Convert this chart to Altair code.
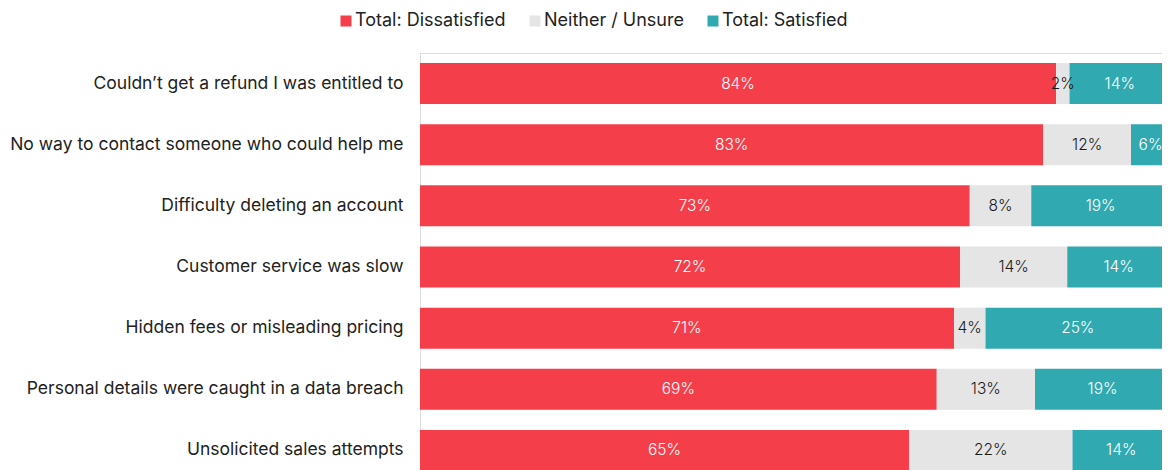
import altair as alt
import pandas as pd

questions = [
    "Couldn’t get a refund I was entitled to",
    "No way to contact someone who could help me",
    "Difficulty deleting an account",
    "Customer service was slow",
    "Hidden fees or misleading pricing",
    "Personal details were caught in a data breach",
    "Unsolicited sales attempts",
]
categories = ["Total: Dissatisfied", "Neither / Unsure", "Total: Satisfied"]
dissatisfied = [84.8, 83.1, 73.3, 72.0, 71.2, 68.9, 65.2]
neither = [1.8, 11.7, 8.2, 14.3, 4.2, 13.1, 21.8]
satisfied = [13.4, 5.2, 18.5, 13.7, 24.6, 18.0, 13.0]
label_dis = ["84%", "83%", "73%", "72%", "71%", "69%", "65%"]
label_nei = ["2%", "12%", "8%", "14%", "4%", "13%", "22%"]
label_sat = ["14%", "6%", "19%", "14%", "25%", "19%", "14%"]
colors = ["#F43F4B", "#E5E5E5", "#30A9B1"]

rows = []
for i, q in enumerate(questions):
    for k, (vals, labs) in enumerate(
        [(dissatisfied, label_dis), (neither, label_nei), (satisfied, label_sat)]
    ):
        rows.append({"question": q, "category": categories[k], "order": k,
                     "value": vals[i], "label": labs[i]})
df = pd.DataFrame(rows)

FONT = "Inter"

base = alt.Chart(df).transform_stack(
    stack="value", groupby=["question"], as_=["v0", "v1"],
    sort=[alt.SortField("order", order="ascending")],
).transform_calculate(
    mid="(datum.v0 + datum.v1) / 2",
    tc="datum.category === 'Neither / Unsure' ? '#1a1a1a' : '#ffffff'",
)

yenc = alt.Y(
    "question:N", sort=questions, title=None,
    scale=alt.Scale(paddingInner=0.333, paddingOuter=0.167),
    axis=alt.Axis(ticks=False, domain=True, domainColor="#dddddd", domainWidth=1,
                  labelFontSize=17.5, labelColor="#222222", labelPadding=17,
                  labelFont=FONT, labelLimit=420),
)
# the visible window ends 8px before the full 100% extent (page margin)
xscale = alt.Scale(domain=[0, 100 * 742 / 750], nice=False, zero=True)

bars = base.mark_bar(size=41, clip=True).encode(
    y=yenc,
    x=alt.X("v0:Q", scale=xscale, axis=None),
    x2="v1:Q",
    color=alt.Color(
        "category:N",
        scale=alt.Scale(domain=categories, range=colors),
        sort=categories,
        legend=alt.Legend(
            title=None, orient="none", direction="horizontal",
            legendX=-83, legendY=-41, symbolType="square", symbolSize=121,
            symbolStrokeWidth=0, labelFontSize=18, labelFont=FONT,
            labelColor="#222222", columnPadding=20, labelOffset=0,
        ),
    ),
)

texts = base.mark_text(fontSize=15.5, font=FONT, fontWeight=300).encode(
    y=alt.Y("question:N", sort=questions),
    x=alt.X("mid:Q", scale=xscale),
    text="label:N",
    color=alt.Color("tc:N", scale=None),
)

chart = alt.layer(bars, texts).properties(
    width=742, height=428,
    padding={"left": 412, "top": 45, "right": 0, "bottom": 0},
    autosize=alt.AutoSizeParams(type="none"),
).configure_view(stroke=None).configure(background="white")

chart.save("out.html", embed_options={"renderer": "svg", "actions": False})
